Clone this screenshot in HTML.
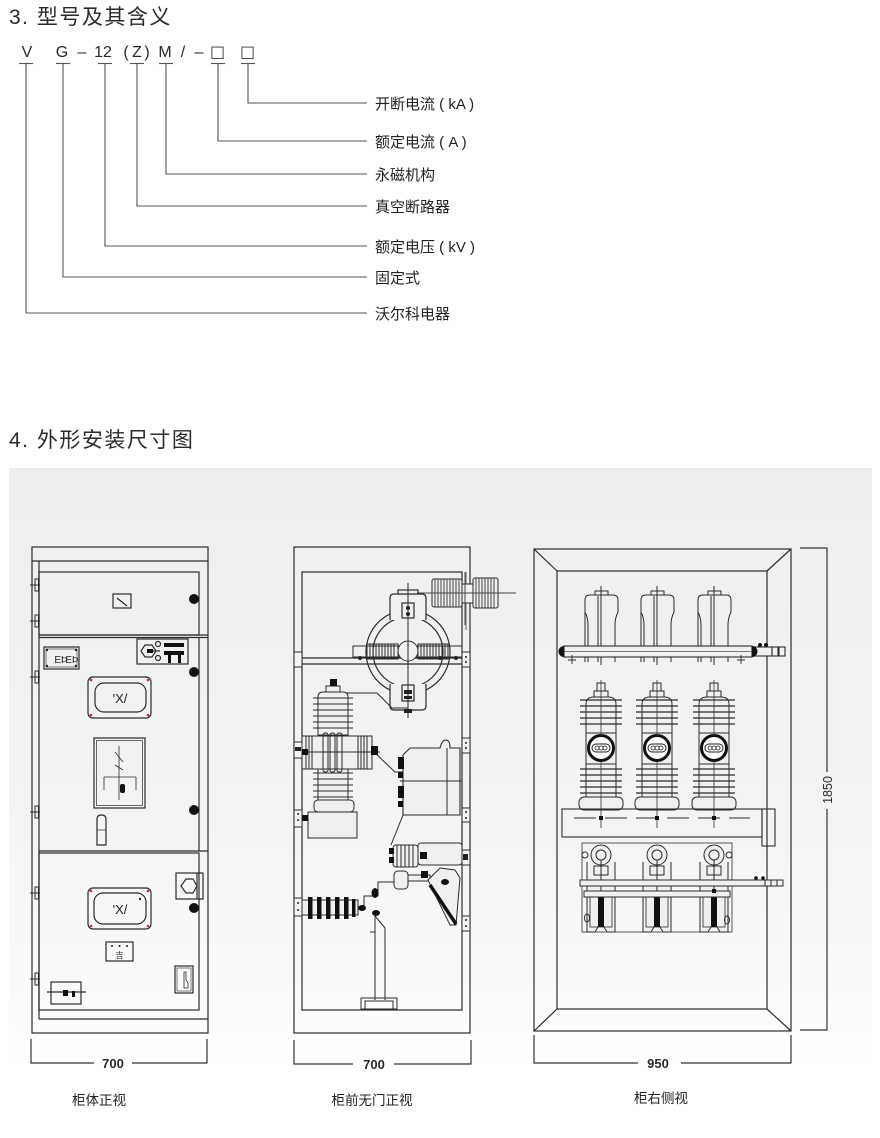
<!DOCTYPE html>
<html>
<head>
<meta charset="utf-8">
<style>
html,body{margin:0;padding:0;background:#fff;}
body{width:880px;height:1138px;overflow:hidden;}
svg{display:block;}
.t{font-family:"Liberation Sans","Noto Sans CJK SC",sans-serif;fill:#2a2a2a;}
.cj{font-family:"Liberation Sans","Noto Sans CJK SC",sans-serif;fill:#222;}
</style>
</head>
<body>
<svg width="880" height="1138" viewBox="0 0 880 1138" xmlns="http://www.w3.org/2000/svg">
<defs>
<linearGradient id="bg" x1="0" y1="0" x2="0" y2="1">
<stop offset="0" stop-color="#eceef0"/>
<stop offset="0.55" stop-color="#f2f3f4"/>
<stop offset="0.85" stop-color="#fafafa"/>
<stop offset="1" stop-color="#ffffff"/>
</linearGradient>
</defs>

<!-- Section 3 -->
<text class="t" x="9" y="24" font-size="21" letter-spacing="1.5">3. 型号及其含义</text>

<g class="t" font-size="16" text-anchor="middle">
<text x="27" y="57">V</text>
<text x="62" y="57">G</text>
<text x="82" y="57">–</text>
<text x="103" y="57">12</text>
<text x="126" y="57">(</text>
<text x="137" y="57">Z</text>
<text x="147" y="57">)</text>
<text x="165" y="57">M</text>
<text x="183" y="57">/</text>
<text x="199" y="57">–</text>
</g>
<text x="217.5" y="57" font-family="DejaVu Sans,sans-serif" font-size="16" text-anchor="middle" fill="#333">□</text>
<text x="247.5" y="57" font-family="DejaVu Sans,sans-serif" font-size="16" text-anchor="middle" fill="#333">□</text>

<g stroke="#555" stroke-width="1.1" fill="none">
<line x1="19" y1="63.5" x2="33" y2="63.5"/>
<line x1="56" y1="63.5" x2="70" y2="63.5"/>
<line x1="98" y1="63.5" x2="112" y2="63.5"/>
<line x1="130" y1="63.5" x2="144" y2="63.5"/>
<line x1="159" y1="63.5" x2="173" y2="63.5"/>
<line x1="211" y1="63.5" x2="225" y2="63.5"/>
<line x1="241" y1="63.5" x2="255" y2="63.5"/>
<polyline points="248,63 248,103 367,103"/>
<polyline points="218,63 218,141 367,141"/>
<polyline points="166,63 166,174 367,174"/>
<polyline points="137,63 137,206 367,206"/>
<polyline points="105,63 105,246 367,246"/>
<polyline points="63,63 63,277 367,277"/>
<polyline points="26,63 26,313 367,313"/>
</g>
<g class="cj" font-size="15">
<text x="375" y="109">开断电流 ( kA )</text>
<text x="375" y="147">额定电流 ( A )</text>
<text x="375" y="180">永磁机构</text>
<text x="375" y="212">真空断路器</text>
<text x="375" y="252">额定电压 ( kV )</text>
<text x="375" y="283">固定式</text>
<text x="375" y="319">沃尔科电器</text>
</g>

<!-- Section 4 -->
<text class="t" x="9" y="447" font-size="21" letter-spacing="1.5">4. 外形安装尺寸图</text>
<rect x="9" y="468" width="863" height="600" fill="url(#bg)"/>

<!-- ============ Cabinet 1 ============ -->
<g stroke="#2b2b2b" stroke-width="1.2" fill="none">
<rect x="32" y="547" width="176" height="486"/>
<line x1="32" y1="561" x2="208" y2="561"/>
<line x1="39" y1="561" x2="39" y2="1019"/>
<rect x="39" y="572" width="160" height="63"/>
<line x1="39" y1="635" x2="208" y2="635"/>
<line x1="39" y1="637.5" x2="208" y2="637.5"/>
<line x1="199" y1="637.5" x2="199" y2="851"/>
<line x1="39" y1="851" x2="208" y2="851"/>
<rect x="39" y="853" width="160" height="157"/>
<line x1="39" y1="1019" x2="208" y2="1019"/>
<rect x="113" y="594" width="18" height="14"/>
<line x1="117" y1="598" x2="127" y2="606"/>
<rect x="44" y="647" width="35" height="22"/>
<rect x="46" y="649" width="31" height="18" stroke-width="0.6"/>
<rect x="137" y="639" width="51" height="25"/>
<polygon points="145,645 152,645 156,651 152,657 145,657 141,651"/>
<circle cx="158" cy="644" r="2.5"/>
<circle cx="158" cy="658" r="2.5"/>
<line x1="152" y1="651" x2="160" y2="651"/>
<rect x="88" y="677" width="63" height="41" rx="5"/>
<rect x="95" y="683" width="51" height="29" rx="9"/>
<rect x="94" y="738" width="51" height="70"/>
<rect x="96.5" y="740.5" width="46" height="65" stroke-width="0.7"/>
<line x1="119" y1="746" x2="119" y2="800" stroke-width="0.8"/>
<line x1="104" y1="777" x2="136" y2="777" stroke-width="0.8"/>
<line x1="104" y1="777" x2="104" y2="790" stroke-width="0.8"/>
<line x1="136" y1="777" x2="136" y2="790" stroke-width="0.8"/>
<line x1="115" y1="752" x2="123" y2="762" stroke-width="0.8"/>
<line x1="115" y1="765" x2="123" y2="770" stroke-width="0.8"/>
<path d="M97,845 L97,819 Q97,815 101.5,815 Q106,815 106,819 L106,845 Z"/>
<line x1="97" y1="830" x2="106" y2="830" stroke-width="0.7"/>
<rect x="176" y="873" width="27" height="26"/>
<polygon points="181,886 186,879 193,879 197,886 193,893 186,893"/>
<line x1="197" y1="873" x2="197" y2="899"/>
<rect x="88" y="888" width="63" height="41" rx="5"/>
<rect x="94" y="893" width="52" height="31" rx="9"/>
<rect x="106" y="942" width="27" height="19"/>
<rect x="175" y="966" width="18" height="27"/>
<rect x="177" y="968" width="14" height="23" stroke-width="0.6"/>
<path d="M184,972 L186,972 L186,980 L188,983 L188,988 L184,988 Z" stroke-width="0.8"/>
<rect x="51" y="982" width="30" height="22"/>
<line x1="47" y1="992" x2="86" y2="992"/>
</g>
<g fill="#111">
<circle cx="194" cy="599" r="5"/>
<circle cx="194" cy="672" r="5"/>
<circle cx="194" cy="810" r="5"/>
<circle cx="194" cy="908" r="5"/>
<rect x="164" y="643" width="20" height="4"/>
<rect x="164" y="651" width="20" height="4"/>
<rect x="168" y="655" width="3" height="8"/>
<rect x="178" y="655" width="3" height="8"/>
<rect x="147" y="649" width="6" height="4"/>
<rect x="120" y="784" width="5" height="9" rx="2"/>
<rect x="63" y="990" width="5" height="6"/>
<rect x="72" y="991" width="3" height="6"/>
</g>
<g fill="#a33">
<circle cx="91" cy="680" r="1.3"/><circle cx="148" cy="680" r="1.3"/>
<circle cx="91" cy="715" r="1.3"/><circle cx="148" cy="715" r="1.3"/>
<circle cx="91" cy="891" r="1.3"/><circle cx="148" cy="891" r="1.3"/>
<circle cx="91" cy="926" r="1.3"/><circle cx="148" cy="926" r="1.3"/>
</g>
<g fill="#222">
<circle cx="47" cy="650" r="1.2"/><circle cx="76" cy="650" r="1.2"/>
<circle cx="47" cy="666" r="1.2"/><circle cx="76" cy="666" r="1.2"/>
<circle cx="112" cy="946" r="1"/><circle cx="119.5" cy="946" r="1"/><circle cx="127" cy="946" r="1"/>
<circle cx="140" cy="899" r="1.2"/>
</g>
<g font-family="Liberation Sans,Noto Sans CJK SC,sans-serif" fill="#222">
<text x="120" y="703" font-size="13" text-anchor="middle">'X/</text>
<text x="120" y="914" font-size="13" text-anchor="middle">'X/</text>
<text x="119.5" y="958" font-size="8" text-anchor="middle">吉</text>
<text x="61" y="663" font-size="10" text-anchor="middle">ЕÞ</text>
<text x="72" y="663" font-size="10" text-anchor="middle">ЕÞ</text>
</g>
<g stroke="#2b2b2b" stroke-width="1" fill="#eee">
<rect x="35" y="579" width="3.5" height="12"/><line x1="30" y1="585" x2="40" y2="585"/>
<rect x="35" y="615" width="3.5" height="12"/><line x1="30" y1="621" x2="40" y2="621"/>
<rect x="35" y="671" width="3.5" height="12"/><line x1="30" y1="677" x2="40" y2="677"/>
<rect x="35" y="806" width="3.5" height="12"/><line x1="30" y1="812" x2="40" y2="812"/>
<rect x="35" y="887" width="3.5" height="12"/><line x1="30" y1="893" x2="40" y2="893"/>
<rect x="35" y="973" width="3.5" height="12"/><line x1="30" y1="979" x2="40" y2="979"/>
</g>
<g stroke="#333" stroke-width="1.2" fill="none">
<polyline points="31,1039 31,1063 94,1063"/>
<polyline points="132,1063 207,1063 207,1039"/>
</g>
<text class="t" x="113" y="1068" font-size="13" font-weight="bold" text-anchor="middle">700</text>
<text class="cj" x="99" y="1105" font-size="13.5" text-anchor="middle">柜体正视</text>

<!-- ============ Cabinet 2 ============ -->
<g stroke="#2b2b2b" stroke-width="1.2" fill="none">
<rect x="294" y="547" width="176" height="486"/>
<rect x="302" y="572" width="160" height="438"/>
<line x1="466" y1="572" x2="466" y2="630" stroke="#777"/>
<line x1="302" y1="658" x2="462" y2="658"/>
<line x1="302" y1="664" x2="462" y2="664"/>
</g>
<g stroke="#2b2b2b" stroke-width="1" fill="#f4f4f4">
<rect x="294" y="652" width="8" height="15"/>
<rect x="294" y="742" width="8" height="16"/>
<rect x="294" y="810" width="8" height="17"/>
<rect x="294" y="898" width="8" height="18"/>
<rect x="462" y="652" width="8" height="15"/>
<rect x="462" y="738" width="8" height="15"/>
<rect x="462" y="808" width="8" height="14"/>
<rect x="462" y="850" width="8" height="15"/>
<rect x="462" y="916" width="8" height="15"/>
</g>
<g fill="#222">
<circle cx="466" cy="657" r="1"/><circle cx="466" cy="662" r="1"/>
<circle cx="466" cy="743" r="1"/><circle cx="466" cy="748" r="1"/>
<circle cx="466" cy="812" r="1"/><circle cx="466" cy="818" r="1"/>
<circle cx="466" cy="920" r="1"/><circle cx="466" cy="926" r="1"/>
<circle cx="298" cy="814" r="1"/><circle cx="298" cy="820" r="1"/>
<circle cx="298" cy="903" r="1"/><circle cx="298" cy="910" r="1"/>
<rect x="463" y="854" width="5" height="6"/>
<rect x="295" y="747" width="6" height="4"/>
</g>
<g stroke="#2b2b2b" stroke-width="1.2" fill="none">
<circle cx="408" cy="652" r="42"/>
<circle cx="408" cy="652" r="35"/>
</g>
<g stroke="#2b2b2b" stroke-width="1.2" fill="#eef0f1">
<path d="M390,620 L390,598 Q390,594 394,594 L422,594 Q426,594 426,598 L426,620"/>
<path d="M390,684 L390,706 Q390,710 394,710 L422,710 Q426,710 426,706 L426,684"/>
<rect x="402" y="603" width="12" height="15"/>
<rect x="402" y="685" width="12" height="16"/>
<rect x="398" y="590" width="20" height="4"/>
</g>
<g stroke="#2b2b2b" stroke-width="1" fill="none">
<rect x="353" y="646" width="109" height="11"/>
<rect x="367" y="644" width="31" height="15"/>
<rect x="418" y="644" width="30" height="15"/>
<path d="M370,644 V659 M373,644 V659 M376,644 V659 M379,644 V659 M382,644 V659 M385,644 V659 M388,644 V659 M391,644 V659 M394,644 V659"/>
<path d="M421,644 V659 M424,644 V659 M427,644 V659 M430,644 V659 M433,644 V659 M436,644 V659 M439,644 V659 M442,644 V659 M445,644 V659"/>
<ellipse cx="408" cy="651" rx="10" ry="10" fill="#eef0f1"/>
<line x1="408" y1="583" x2="408" y2="718"/>
<polyline points="345,693 377,693 392,708 408,708"/>
</g>
<g fill="#222">
<circle cx="408" cy="608" r="2"/><circle cx="408" cy="614" r="2"/>
<rect x="404" y="690" width="8" height="4"/><rect x="404" y="696" width="8" height="3"/>
<rect x="404" y="709" width="8" height="4"/>
<circle cx="360" cy="658" r="2"/><circle cx="440" cy="658" r="2"/><circle cx="456" cy="658" r="2"/>
</g>
<g stroke="#2b2b2b" stroke-width="1" fill="#eef0f1">
<rect x="432" y="579" width="30" height="28" rx="2"/>
<rect x="462" y="584" width="11" height="19"/>
<rect x="473" y="578" width="25" height="30" rx="2"/>
</g>
<g stroke="#444" stroke-width="1" fill="none">
<path d="M435,579 V607 M438,579 V607 M441,579 V607 M444,579 V607 M447,579 V607 M450,579 V607 M453,579 V607 M456,579 V607 M459,579 V607"/>
<path d="M476,578 V608 M479,578 V608 M482,578 V608 M485,578 V608 M488,578 V608 M491,578 V608 M494,578 V608"/>
<line x1="417" y1="593" x2="516" y2="593"/>
<line x1="465" y1="572" x2="465" y2="625"/>
</g>
<g stroke="#2b2b2b" stroke-width="1" fill="#eef0f1">
<rect x="326" y="686" width="14" height="6"/>
<path d="M318,697 Q318,692 323,692 L343,692 Q348,692 348,697 L348,735 L318,735 Z"/>
<rect x="302" y="736" width="70" height="33"/>
<rect x="318" y="769" width="30" height="32"/>
<rect x="314" y="800" width="40" height="12" rx="4"/>
<rect x="308" y="812" width="49" height="26"/>
</g>
<g stroke="#2b2b2b" stroke-width="1" fill="none">
<path d="M313,698 H353 M313,704 H353 M313,710 H353 M313,716 H353 M313,722 H353 M313,728 H353"/>
<path d="M313,773 H353 M313,779 H353 M313,785 H353 M313,791 H353 M313,797 H353"/>
<path d="M306,736 V769 M309,736 V769 M312,736 V769 M358,736 V769 M361,736 V769 M364,736 V769 M367,736 V769"/>
<rect x="323" y="733" width="5" height="39" rx="2"/>
<rect x="330" y="733" width="5" height="39" rx="2"/>
<rect x="337" y="733" width="5" height="39" rx="2"/>
<line x1="302" y1="752" x2="380" y2="752"/>
<polyline points="374,752 395,772 403,772"/>
</g>
<g fill="#111">
<rect x="330" y="679" width="7" height="7"/>
<rect x="371" y="746" width="7" height="9"/>
<rect x="302" y="749" width="6" height="6"/>
<rect x="302" y="815" width="6" height="6"/>
</g>
<g stroke="#2b2b2b" stroke-width="1.1" fill="#eef0f1">
<path d="M403,755 L410,748 L440,748 Q442,740 446,740 Q450,740 450,748 L460,748 L460,815 L403,815 Z"/>
</g>
<g stroke="#2b2b2b" stroke-width="1" fill="none">
<line x1="447" y1="748" x2="447" y2="815"/>
<line x1="400" y1="781" x2="462" y2="781"/>
<line x1="403" y1="815" x2="391" y2="845"/>
</g>
<g fill="#111">
<rect x="398" y="757" width="6" height="12"/>
<rect x="398" y="772" width="5" height="6"/>
<rect x="398" y="786" width="6" height="12"/>
<rect x="398" y="801" width="5" height="6"/>
</g>
<g stroke="#2b2b2b" stroke-width="1" fill="#eef0f1">
<rect x="393" y="845" width="25" height="22" rx="3"/>
<rect x="418" y="843" width="44" height="22" rx="3"/>
<rect x="394" y="871" width="14" height="18" rx="4"/>
<rect x="408" y="875" width="22" height="6"/>
<path d="M428,880 L440,868 L455,870 L460,878 L456,925 L450,925 Z"/>
</g>
<g stroke="#2b2b2b" stroke-width="1" fill="none">
<path d="M397,845 V867 M401,845 V867 M405,845 V867 M409,845 V867 M413,845 V867"/>
<polyline points="360,907 364,907 364,896 378,896 378,882 394,882"/>
<polyline points="375,916 375,1000"/>
<polyline points="385,928 385,1000"/>
<polyline points="375,916 380,922 385,928"/>
<polyline points="370,932 375,932"/>
</g>
<line x1="430" y1="885" x2="456" y2="924" stroke="#111" stroke-width="3.5"/>
<g fill="#111">
<rect x="389" y="848" width="5" height="6"/>
<rect x="389" y="857" width="5" height="6"/>
<rect x="420" y="852" width="7" height="7"/>
<rect x="421" y="871" width="7" height="7"/>
<ellipse cx="375" cy="893" rx="3.5" ry="5"/>
<ellipse cx="376" cy="913" rx="4" ry="3"/>
<ellipse cx="445" cy="882" rx="4" ry="3"/>
<ellipse cx="362" cy="908" rx="4" ry="3"/>
</g>
<g stroke="#2b2b2b" stroke-width="1" fill="#eef0f1">
<rect x="302" y="900" width="56" height="15"/>
</g>
<g fill="#111">
<rect x="308" y="897" width="4.5" height="22"/>
<rect x="317" y="897" width="4.5" height="22"/>
<rect x="326" y="897" width="4.5" height="22"/>
<rect x="335" y="897" width="4.5" height="22"/>
<rect x="344" y="897" width="4.5" height="22"/>
<rect x="352" y="899" width="3.5" height="18"/>
</g>
<g stroke="#2b2b2b" stroke-width="1" fill="none">
<rect x="361" y="998" width="36" height="11"/>
<rect x="365" y="1001" width="28" height="8"/>
</g>
<g stroke="#333" stroke-width="1.2" fill="none">
<polyline points="294,1040 294,1064 353,1064"/>
<polyline points="394,1064 471,1064 471,1040"/>
</g>
<text class="t" x="374" y="1069" font-size="13" font-weight="bold" text-anchor="middle">700</text>
<text class="cj" x="372" y="1105" font-size="13.5" text-anchor="middle">柜前无门正视</text>

<!-- ============ Cabinet 3 ============ -->
<g stroke="#2b2b2b" stroke-width="1.2" fill="none">
<rect x="534" y="549" width="257" height="482"/>
<rect x="557" y="571" width="210" height="438"/>
<line x1="534" y1="549" x2="557" y2="571"/>
<line x1="791" y1="549" x2="767" y2="571"/>
<line x1="534" y1="1031" x2="557" y2="1009"/>
<line x1="791" y1="1031" x2="767" y2="1009"/>
</g>
<g stroke="#333" stroke-width="1.2" fill="none">
<polyline points="800,548 827,548 827,772"/>
<polyline points="827,809 827,1030 800,1030"/>
</g>
<text class="t" font-size="12.5" text-anchor="middle" transform="translate(832,790) rotate(-90)">1850</text>

<g stroke="#2b2b2b" stroke-width="1" fill="#eef0f1">
<path d="M585,662 L585,600 Q585,595 590,595 L613,595 Q618,595 618,600 L618,612 Q615,618 615,625 L615,662 M585,612 Q588,618 588,625 L588,662"/>
<path d="M641,662 L641,600 Q641,595 646,595 L669,595 Q674,595 674,600 L674,612 Q671,618 671,625 L671,662 M641,612 Q644,618 644,625 L644,662"/>
<path d="M698,662 L698,600 Q698,595 703,595 L726,595 Q731,595 731,600 L731,612 Q728,618 728,625 L728,662 M698,612 Q701,618 701,625 L701,662"/>
</g>
<g stroke="#2b2b2b" stroke-width="1" fill="none">
<path d="M601,586 V665 M598,596 V662 M657,586 V665 M654,596 V662 M714,586 V665 M711,596 V662"/>
<rect x="595" y="591" width="13" height="4"/>
<rect x="651" y="591" width="13" height="4"/>
<rect x="708" y="591" width="13" height="4"/>
</g>
<g stroke="#2b2b2b" stroke-width="1.1" fill="#eef0f1">
<rect x="564" y="646" width="188" height="11"/>
<rect x="752" y="647" width="20" height="9"/>
<rect x="772" y="647" width="6" height="9"/>
<rect x="779" y="647" width="6" height="9"/>
</g>
<line x1="564" y1="651.5" x2="752" y2="651.5" stroke="#555" stroke-width="0.7"/>
<g fill="#111">
<path d="M564,646 A5.5,5.5 0 0 0 564,657 Z"/>
<path d="M752,646 A5.5,5.5 0 0 1 752,657 Z"/>
<circle cx="760" cy="645" r="2"/>
<circle cx="766" cy="645" r="2"/>
</g>
<g stroke="#2b2b2b" stroke-width="0.9">
<path d="M572,655 V664 M568,660 H576 M741,655 V664 M737,660 H745"/>
</g>
<g id="pole">
<g stroke="#2b2b2b" stroke-width="1" fill="#eef0f1">
<rect x="597" y="683" width="8" height="8"/>
<rect x="594" y="691" width="14" height="6"/>
<path d="M586,704 Q586,697 594,697 L608,697 Q616,697 616,704 L616,800 L586,800 Z"/>
<rect x="586" y="733" width="30" height="31"/>
<rect x="579" y="797" width="44" height="13" rx="5"/>
</g>
<g stroke="#2b2b2b" stroke-width="1.3" fill="none">
<path d="M580,700 H622 M580,706 H622 M580,712 H622 M580,718 H622 M580,724 H622"/>
<path d="M580,769 H622 M580,775 H622 M580,781 H622 M580,787 H622 M580,793 H622"/>
</g>
<circle cx="601" cy="748" r="12.5" fill="#fff" stroke="#111" stroke-width="3"/>
<rect x="592" y="744" width="18" height="8" rx="4" fill="none" stroke="#222" stroke-width="1"/>
<circle cx="597" cy="748" r="2" fill="none" stroke="#222" stroke-width="0.8"/>
<circle cx="601" cy="748" r="2" fill="none" stroke="#222" stroke-width="0.8"/>
<circle cx="605" cy="748" r="2" fill="none" stroke="#222" stroke-width="0.8"/>
<line x1="601" y1="680" x2="601" y2="736" stroke="#333" stroke-width="0.8"/>
<line x1="601" y1="761" x2="601" y2="828" stroke="#333" stroke-width="0.8"/>
</g>
<use href="#pole" x="56"/>
<use href="#pole" x="113"/>
<g stroke="#2b2b2b" stroke-width="1.1" fill="none">
<rect x="562" y="809" width="200" height="28"/>
<rect x="762" y="809" width="13" height="37"/>
<line x1="574" y1="818" x2="750" y2="818" stroke-dasharray="22,9" stroke-width="1"/>
</g>
<g fill="#111">
<rect x="599" y="816" width="4" height="4"/>
<rect x="655" y="816" width="4" height="4"/>
<rect x="712" y="816" width="4" height="4"/>
</g>
<g stroke="#2b2b2b" stroke-width="1" fill="none">
<rect x="582" y="843" width="150" height="89" stroke="#555"/>
</g>
<g id="unit">
<g stroke="#2b2b2b" stroke-width="1" fill="#eef0f1">
<path d="M587,862 L587,932 L595,932 L601,922 L607,932 L615,932 L615,862"/>
<rect x="594" y="866" width="14" height="9"/>
<circle cx="601" cy="855" r="10"/>
</g>
<circle cx="601" cy="855" r="5" fill="none" stroke="#2b2b2b" stroke-width="1"/>
<line x1="601" y1="860" x2="601" y2="897" stroke="#2b2b2b" stroke-width="1"/>
<rect x="590" y="897" width="22" height="30" fill="none" stroke="#2b2b2b" stroke-width="0.8"/>
<rect x="598" y="897" width="6" height="30" fill="#111"/>
</g>
<use href="#unit" x="56"/>
<use href="#unit" x="113"/>
<g stroke="#2b2b2b" stroke-width="1" fill="#eef0f1">
<rect x="580" y="880" width="185" height="6"/>
<rect x="765" y="880" width="6" height="6"/>
<rect x="771" y="880" width="6" height="6"/>
<rect x="777" y="880" width="6" height="6"/>
<rect x="584" y="891" width="146" height="6"/>
</g>
<g fill="#111">
<circle cx="756" cy="878" r="1.8"/>
<circle cx="763" cy="878" r="1.8"/>
<rect x="712" y="889" width="4" height="4"/>
</g>
<g stroke="#2b2b2b" stroke-width="1" fill="none">
<ellipse cx="587" cy="918" rx="2.5" ry="4"/>
<ellipse cx="727" cy="920" rx="2.5" ry="4"/>
<circle cx="585" cy="855" r="3"/>
<circle cx="729" cy="855" r="3"/>
</g>
<g stroke="#333" stroke-width="1.2" fill="none">
<polyline points="534,1035 534,1063 638,1063"/>
<polyline points="681,1063 791,1063 791,1035"/>
</g>
<text class="t" x="658" y="1068" font-size="13" font-weight="bold" text-anchor="middle">950</text>
<text class="cj" x="661" y="1103" font-size="13.5" text-anchor="middle">柜右侧视</text>
</svg>
</body>
</html>
